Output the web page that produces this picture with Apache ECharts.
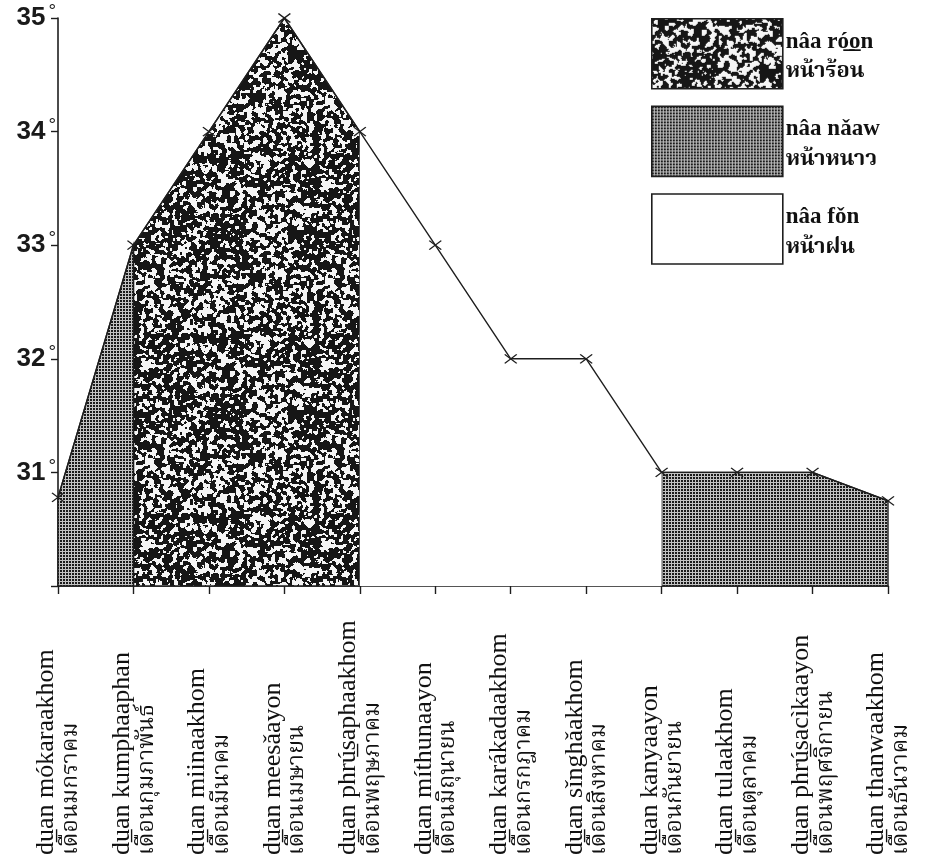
<!DOCTYPE html>
<html>
<head>
<meta charset="utf-8">
<script src="https://cdn.jsdelivr.net/npm/echarts@6/dist/echarts.min.js"></script>
<style>
  html, body { margin: 0; padding: 0; background: #ffffff; }
  #chart { width: 925px; height: 862px; }
</style>
</head>
<body>
<div id="chart"></div>
<script>
// Month names: transliteration and Thai script
const monthsLatin = [
  'du\u0332an mókaraakhom', 'du\u0332an kumphaaphan', 'du\u0332an miinaakhom',
  'du\u0332an meesǎayon', 'du\u0332an phrú\u0332saphaakhom', 'du\u0332an míthunaayon',
  'du\u0332an karákadaakhom', 'du\u0332an sǐnghǎakhom', 'du\u0332an kanyaayon',
  'du\u0332an tulaakhom', 'du\u0332an phrú\u0332sacìkaayon', 'du\u0332an thanwaakhom'
];
const monthsThai = [
  'เดือนมกราคม', 'เดือนกุมภาพันธ์', 'เดือนมีนาคม', 'เดือนเมษายน',
  'เดือนพฤษภาคม', 'เดือนมิถุนายน', 'เดือนกรกฎาคม', 'เดือนสิงหาคม',
  'เดือนกันยายน', 'เดือนตุลาคม', 'เดือนพฤศจิกายน', 'เดือนธันวาคม'
];
// Mean temperature per month (°C)
const temps = [30.78, 33, 34, 35, 34, 33, 32, 32, 31, 31, 31, 30.75];
const yMin = 30;
const yMax = 35;

// Seasons: names and the month-index spans they cover
const seasonLatin = ['nâa ró\u0332o\u0332n', 'nâa nǎaw', 'nâa fǒn'];
const seasonThai = ['หน้าร้อน', 'หน้าหนาว', 'หน้าฝน'];
const seasonSpans = [
  [[1, 4]],
  [[0, 1], [8, 11]],
  [[4, 8]]
];

// ---- fill textures ----
// Blotchy black-and-white stipple: smoothed seeded noise, thresholded
function makeSpeckle(size, seed) {
  let s = seed >>> 0;
  const rnd = () => {
    s = (s + 0x6D2B79F5) >>> 0;
    let t = s;
    t = Math.imul(t ^ (t >>> 15), t | 1);
    t ^= t + Math.imul(t ^ (t >>> 7), t | 61);
    return ((t ^ (t >>> 14)) >>> 0) / 4294967296;
  };
  let a = new Float32Array(size * size);
  for (let i = 0; i < a.length; i++) a[i] = rnd();
  for (let pass = 0; pass < 2; pass++) {
    const b = new Float32Array(size * size);
    for (let y = 0; y < size; y++) {
      for (let x = 0; x < size; x++) {
        let sum = 0;
        for (let dy = -1; dy <= 1; dy++) {
          for (let dx = -1; dx <= 1; dx++) {
            sum += a[((y + dy + size) % size) * size + ((x + dx + size) % size)];
          }
        }
        b[y * size + x] = sum / 9;
      }
    }
    a = b;
  }
  const sorted = Array.from(a).sort((p, q) => p - q);
  const thr = sorted[Math.floor(sorted.length * 0.62)];
  const cv = document.createElement('canvas');
  cv.width = cv.height = size;
  const ctx = cv.getContext('2d');
  const img = ctx.createImageData(size, size);
  for (let i = 0; i < a.length; i++) {
    const v = a[i] < thr ? 22 : 245;
    img.data[i * 4] = v;
    img.data[i * 4 + 1] = v;
    img.data[i * 4 + 2] = v;
    img.data[i * 4 + 3] = 255;
  }
  ctx.putImageData(img, 0, 0);
  return cv;
}

// Fine dot screen
function makeChecker() {
  const cv = document.createElement('canvas');
  cv.width = cv.height = 3;
  const ctx = cv.getContext('2d');
  ctx.fillStyle = '#c2c2c2';
  ctx.fillRect(0, 0, 3, 3);
  ctx.fillStyle = '#1a1a1a';
  ctx.fillRect(0, 0, 2, 2);
  return cv;
}

const hotFill = { image: makeSpeckle(180, 20240611), repeat: 'repeat' };
const coolFill = { image: makeChecker(), repeat: 'repeat' };
const seasonFills = [hotFill, coolFill, '#ffffff'];
const seasonStroke = ['#1e1e1e', '#1e1e1e', null];

const serif = '"Liberation Serif", "Times New Roman", "DejaVu Serif", "Noto Serif Thai", "Noto Sans Thai", serif';
const sans = '"Liberation Sans", Arial, "DejaVu Sans", sans-serif';

function seasonSeries(k) {
  return {
    name: seasonLatin[k],
    type: 'custom',
    z: 1,
    silent: true,
    encode: { x: [0, 1] },
    itemStyle: {
      color: seasonFills[k],
      borderColor: '#1e1e1e',
      borderWidth: 1.4
    },
    data: seasonSpans[k],
    renderItem: function (params, api) {
      const s = api.value(0);
      const e = api.value(1);
      const pts = [];
      for (let i = s; i <= e; i++) pts.push(api.coord([i, temps[i]]));
      pts.push(api.coord([e, yMin]));
      pts.push(api.coord([s, yMin]));
      return {
        type: 'polygon',
        shape: { points: pts },
        style: {
          fill: seasonFills[k],
          stroke: seasonStroke[k],
          lineWidth: 1.4
        }
      };
    }
  };
}

const chart = echarts.init(document.getElementById('chart'), null, { renderer: 'canvas' });

chart.setOption({
  animation: false,
  backgroundColor: '#ffffff',
  grid: { left: 58, right: 37, top: 18, bottom: 276, containLabel: false },
  legend: {
    orient: 'vertical',
    left: 651,
    top: 18,
    padding: 0,
    icon: 'rect',
    itemWidth: 131,
    itemHeight: 70,
    itemGap: 16,
    selectedMode: false,
    data: seasonLatin,
    itemStyle: { borderColor: '#1e1e1e', borderWidth: 1.6 },
    formatter: function (name) {
      const k = seasonLatin.indexOf(name);
      return '{a|' + name + '}\n{b|' + seasonThai[k] + '}';
    },
    textStyle: {
      padding: [6, 0, 0, -2],
      rich: {
        a: { fontFamily: serif, fontWeight: 'bold', fontSize: 23, color: '#111', lineHeight: 30 },
        b: { fontFamily: serif, fontWeight: 'bold', fontSize: 22, color: '#111', lineHeight: 30 }
      }
    }
  },
  xAxis: {
    type: 'category',
    boundaryGap: false,
    data: monthsLatin,
    axisLine: { lineStyle: { color: '#1e1e1e', width: 1.6 } },
    axisTick: { show: true, length: 8, lineStyle: { color: '#1e1e1e', width: 1.4 } },
    axisLabel: {
      interval: 0,
      rotate: 90,
      align: 'left',
      verticalAlign: 'middle',
      margin: 269,
      formatter: function (value, idx) {
        return '{a|' + value + '}\n{b|' + monthsThai[idx] + '}';
      },
      rich: {
        a: { fontFamily: serif, fontSize: 26, color: '#111', lineHeight: 26 },
        b: { fontFamily: serif, fontSize: 23, color: '#111', lineHeight: 23 }
      }
    },
    splitLine: { show: false }
  },
  yAxis: {
    type: 'value',
    min: yMin,
    max: yMax,
    interval: 1,
    axisLine: { show: true, lineStyle: { color: '#1e1e1e', width: 1.6 } },
    axisTick: { show: true, length: 7, lineStyle: { color: '#1e1e1e', width: 1.4 } },
    splitLine: { show: false },
    axisLabel: {
      margin: 2,
      formatter: function (v) {
        return v === yMin ? '' : '{n|' + v + '}{d|°}';
      },
      rich: {
        n: { fontFamily: sans, fontWeight: 'bold', fontSize: 26, color: '#1a1a1a' },
        d: { fontFamily: sans, fontSize: 19, color: '#1a1a1a', padding: [0, 0, 12, 3] }
      }
    }
  },
  series: [
    seasonSeries(0),
    seasonSeries(1),
    seasonSeries(2),
    {
      name: 'temperature',
      type: 'line',
      z: 5,
      data: temps,
      symbol: 'path://M0,0L12,9M12,0L0,9',
      symbolSize: [12, 9],
      itemStyle: { color: 'rgba(0,0,0,0)', borderColor: '#1e1e1e', borderWidth: 1.3 },
      lineStyle: { color: '#1e1e1e', width: 1.4 },
      silent: true
    }
  ]
});
</script>
</body>
</html>
